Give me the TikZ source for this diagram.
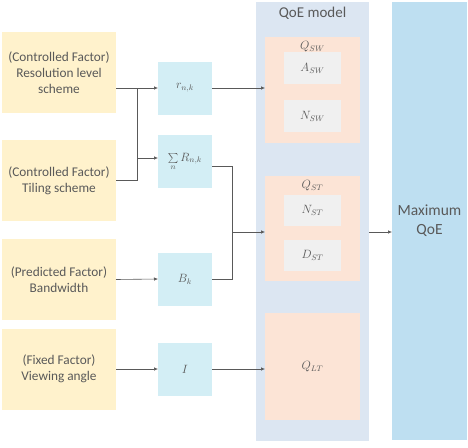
\documentclass[tikz,border=0pt]{standalone}
\usepackage{fontspec}
\setmainfont{Carlito}
\usetikzlibrary{arrows.meta}
\definecolor{txt}{HTML}{595959}
\definecolor{yel}{HTML}{FFF2CC}
\definecolor{lblue}{HTML}{D3EEF5}
\definecolor{panel}{HTML}{DCE6F2}
\definecolor{salmon}{HTML}{FCE4D6}
\definecolor{gry}{HTML}{F0F0F0}
\definecolor{maxc}{HTML}{BEDFF1}
\tikzset{
  every node/.style={text=txt, inner sep=0pt, outer sep=0pt},
  factor/.style={fill=yel, minimum width=114pt, minimum height=81pt, align=center, font=\fontsize{13.3}{16}\selectfont},
  mathf/.style={font=\fontsize{12}{14}\selectfont},
  varbox/.style={fill=lblue, minimum width=54pt, minimum height=53pt, mathf},
  sub/.style={fill=salmon, minimum width=95pt},
  inner/.style={fill=gry, minimum width=57pt, minimum height=32pt, mathf},
  conn/.style={draw=txt, line width=0.6pt},
  arr/.style={conn, -{Latex[length=4pt,width=3.5pt]}}
}
\begin{document}
\begin{tikzpicture}[x=1pt,y=-1pt]
\useasboundingbox (0,0) rectangle (468,447);
% QoE model panel and maximum
\node[fill=panel, minimum width=113pt, minimum height=439pt] (panel) at (312.5,221.5) {};
\node[font=\fontsize{15}{17}\selectfont] (paneltitle) at (312.5,13) {QoE model};
\node[fill=maxc, minimum width=75pt, minimum height=438pt, align=center, font=\fontsize{15.5}{19}\selectfont] (max) at (429.5,221) {Maximum\\QoE};
% sub models
\node[sub, minimum height=106pt] (qsw) at (312.5,90) {};
\node[mathf] (qswl) at (312.5,47) {$Q_{SW}$};
\node[inner] (asw) at (312.5,68) {$A_{SW}$};
\node[inner] (nsw) at (312.5,116) {$N_{SW}$};
\node[sub, minimum height=105pt] (qst) at (312.5,228.5) {};
\node[mathf] (qstl) at (312.5,186) {$Q_{ST}$};
\node[inner, minimum height=31pt] (nst) at (312.5,210.5) {$N_{ST}$};
\node[inner, minimum height=31pt] (dst) at (312.5,255.5) {$D_{ST}$};
\node[sub, minimum height=107pt, mathf] (qlt) at (312.5,366.5) {$Q_{LT}$};
% factors
\node[factor] (f1) at (59,72.5) {(Controlled Factor)\\Resolution level\\scheme};
\node[factor] (f2) at (59,180.5) {(Controlled Factor)\\Tiling scheme};
\node[factor] (f3) at (59,279.5) {(Predicted Factor)\\Bandwidth};
\node[factor] (f4) at (59,369) {(Fixed Factor)\\Viewing angle};
% variables
\node[varbox] (r) at (185,88) {$r_{n,k}$};
\node[varbox] (s) at (185,161.5) {$\sum\limits_{n} R_{n,k}$};
\node[varbox] (b) at (185,279) {$B_k$};
\node[varbox] (i) at (185,369) {$I$};
% junctions
\coordinate (j1) at (137,88);
\coordinate (j2) at (232,232);
% connectors
\draw[arr] (f1.east |- r.west) -- (r.west);
\draw[conn] (f2.east) -| (j1);
\draw[arr] (j1 |- s.west) ++(0,-3.5) -- ([yshift=3.5pt]s.west);
\draw[conn] ([yshift=-4.5pt]s.east) -| (j2);
\draw[conn] (b.east) -| (j2);
\draw[arr] (j2) -- (qst.west |- j2);
\draw[arr] (f3.east) -- (b.west);
\draw[arr] (f4.east) -- (i.west);
\draw[arr] (r.east) -- (qsw.west |- r.east);
\draw[arr] (i.east) -- (qlt.west |- i.east);
\draw[arr] (panel.east |- j2) -- (max.west |- j2);
\end{tikzpicture}
\end{document}
